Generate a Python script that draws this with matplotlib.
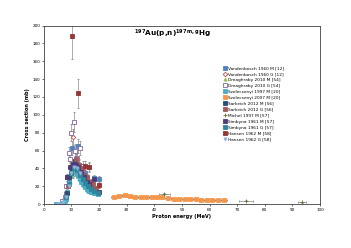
import matplotlib.pyplot as plt

# excitation function data
vdb_m_x = [7.0, 8.0, 9.0, 10.2, 11.2, 12.4, 13.6, 14.8, 16.2, 18.0, 20.0]
vdb_m_y = [2, 10, 28, 63, 45, 65, 40, 35, 41, 29, 28]

vdb_g_x = [7.0, 8.0, 9.0, 9.5, 10.4, 11.6, 12.8, 14.0, 15.5, 17.0, 20.0]
vdb_g_y = [3, 14, 30, 41, 75, 52, 45, 38, 30, 25, 21]

dma_m_x = [7.5, 8.5, 9.5, 10.5, 11.5, 12.5]
dma_m_y = [5, 15, 25, 33, 38, 36]

dma_g_x = [6.5, 7.5, 8.0, 8.5, 9.0, 9.5, 10.0, 10.9, 11.3, 12.0, 13.0, 14.0]
dma_g_y = [3, 8, 20, 30, 57, 50, 80, 92, 60, 52, 63, 43]

sz97_x = [4.5, 5.5, 6.5, 7.5, 8.0, 8.5, 9.0, 9.5, 10.0, 10.5, 11.0, 11.5, 12.0,
          12.5, 13.0, 13.5, 14.0, 14.5, 15.0, 15.5, 16.0, 16.5, 17.0, 17.5, 18.0, 19.5]
sz97_y = [0, 0.3, 1, 3, 6, 14, 24, 32, 38, 40, 38, 37, 34,
          31, 28, 25, 23, 21, 19, 17, 16, 15, 14, 13, 12, 11]

sz07_x = [25.4, 27.3, 29.2, 31.1, 33.0, 35.0, 37.0, 39.0, 41.0, 42.6, 45.0,
          47.0, 49.0, 51.0, 53.0, 55.0, 57.0, 59.0, 61.0, 63.0, 65.2]
sz07_y = [8, 9, 10, 9, 8.5, 8, 7.5, 7.5, 7.5, 7.5, 6.5,
          6, 6, 6, 5.5, 5.5, 5, 4.5, 5, 4.5, 4.5]

sar_m_x = [8.2, 9.2, 10.2, 11.2, 12.2, 13.2, 14.2, 15.2, 16.2, 17.2, 18.2]
sar_m_y = [12, 30, 40, 48, 42, 35, 28, 24, 20, 18, 16]

sar_g_x = [8.7, 9.7, 10.7, 11.7, 12.7, 13.7, 14.7, 15.7, 16.7, 17.7, 18.7]
sar_g_y = [20, 35, 44, 50, 44, 40, 33, 30, 25, 22, 18]

mic_x = [11.9, 14.9, 43.5, 73.2, 93.5]
mic_y = [42, 30, 11, 4, 2]
mic_xerr = [0.3, 0.3, 2.0, 2.5, 1.5]

sim_m_x = [8.5, 9.5, 10.5, 11.5, 12.5, 13.5, 14.5, 15.5, 16.5, 18.3, 19.8]
sim_m_y = [30, 42, 45, 44, 41, 36, 30, 25, 22, 28, 14]

sim_g_x = [8.0, 9.0, 10.0, 11.0, 12.0, 13.0, 14.0, 15.0, 16.0, 17.0, 18.0, 19.5]
sim_g_y = [8, 22, 35, 40, 38, 33, 28, 24, 20, 17, 15, 12]

han_m_x = [10.3, 12.4, 14.8, 16.2, 20.0]
han_m_y = [188, 124, 43, 42, 21]
han_m_err = [25, 16, 5, 5, 3]

han_g_x = [5.0, 6.0, 7.0, 8.0, 9.0, 10.0, 11.0, 12.0, 13.0]
han_g_y = [0, 0.5, 2, 8, 20, 35, 42, 40, 35]

series = [
    ('Vandenbosch 1960 M [12]', vdb_m_x, vdb_m_y, None, None, 's', '#4F81BD', True),
    ('Vandenbosch 1960 G [12]', vdb_g_x, vdb_g_y, None, None, 'D', '#C0504D', False),
    ('Dmaghraby 2010 M [54]', dma_m_x, dma_m_y, None, None, '^', '#9BBB59', True),
    ('Dmaghraby 2010 G [54]', dma_g_x, dma_g_y, None, None, 's', '#8064A2', False),
    ('Szelecsenyi 1997 M [20]', sz97_x, sz97_y, None, None, 's', '#4BACC6', True),
    ('Szelecsenyi 2007 M [20]', sz07_x, sz07_y, None, 1.0, 's', '#F79646', True),
    ('Sarkeich 2012 M [56]', sar_m_x, sar_m_y, None, None, 's', '#2C4D75', True),
    ('Sarkeich 2012 G [56]', sar_g_x, sar_g_y, None, None, 's', '#A05A58', True),
    ('Michel 1997 M [57]', mic_x, mic_y, None, mic_xerr, '+', '#5F7530', True),
    ('Simbyna 1961 M [57]', sim_m_x, sim_m_y, None, None, 's', '#4D3B7A', True),
    ('Simbyna 1961 G [57]', sim_g_x, sim_g_y, None, None, 's', '#31859C', True),
    ('Hansen 1962 M [58]', han_m_x, han_m_y, han_m_err, None, 's', '#943634', True),
    ('Hansen 1962 G [58]', han_g_x, han_g_y, None, None, 'v', '#95B3D7', True),
]

fig = plt.figure(figsize=(3.51, 2.48), dpi=100)
ax = fig.add_axes([0.125, 0.177, 0.787, 0.72])

handles = []
for label, x, y, err, xerr, mk, col, filled in series:
    if err is None:
        err = [max(v * 0.12, 0.5) for v in y]
    c = ax.errorbar(x, y, yerr=err, xerr=xerr, fmt=mk, ms=2.3, mew=0.6,
                    color=col, mfc=col if filled else 'white', mec=col,
                    ecolor='#8c8c8c', elinewidth=0.5, capsize=0.8, capthick=0.4,
                    label=label)
    handles.append(c.lines[0])

ax.set_xlim(0, 100)
ax.set_ylim(0, 200)
ax.set_xticks(range(0, 101, 10))
ax.set_yticks(range(0, 201, 20))
ax.tick_params(labelsize=3, length=1.5, width=0.4, pad=1)
for s in ax.spines.values():
    s.set_linewidth(0.6)
    s.set_color('#404040')

ax.set_xlabel('Proton energy (MeV)', fontsize=3.6, fontweight='bold', labelpad=1.5)
ax.set_ylabel('Cross section (mb)', fontsize=3.6, fontweight='bold', labelpad=1.5)
ax.text(0.467, 0.99, r'$^{\mathbf{197}}$Au(p,n)$^{\mathbf{197m,g}}$Hg',
        transform=ax.transAxes, ha='center', va='top', fontsize=5.2, fontweight='bold')

ax.legend(handles=handles, labels=[s[0] for s in series], loc='upper left',
          bbox_to_anchor=(0.64, 0.79), fontsize=3.1, frameon=False,
          handlelength=0.6, handletextpad=0.4, labelspacing=0.45, borderpad=0.2)

fig.savefig('out.png', dpi=100)
